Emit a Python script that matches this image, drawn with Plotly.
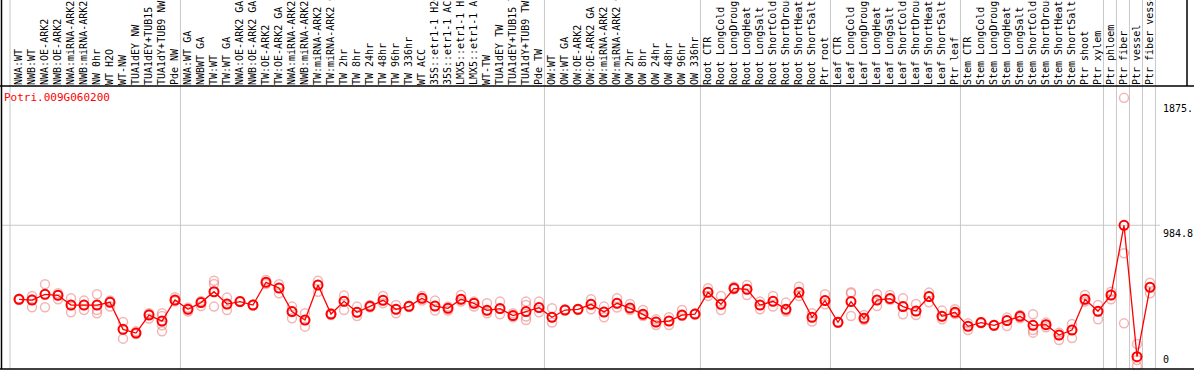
import plotly.graph_objects as go

# ---------------- data ----------------
gene_id = "Potri.009G060200"

sample_labels = [
    "NWA:WT", "NWB:WT", "NWA:OE-ARK2", "NWB:OE-ARK2", "NWA:miRNA-ARK2", "NWB:miRNA-ARK2",
    "NW 0hr", "WT H2O", "WT-NW", "TUA1dEY NW", "TUA1dEY+TUB15 NW", "TUA1dY+TUB9 NW", "Pde NW",
    "NWA:WT GA", "NWBWT GA", "TW:WT", "TW:WT GA", "NWA:OE-ARK2 GA", "NWB:OE-ARK2 GA",
    "TW:OE-ARK2", "TW:OE-ARK2 GA", "NWA:miRNA-ARK2 GA", "NWB:miRNA-ARK2 GA", "TW:miRNA-ARK2",
    "TW:miRNA-ARK2 GA", "TW 2hr", "TW 8hr", "TW 24hr", "TW 48hr", "TW 96hr", "TW 336hr",
    "WT ACC", "35S::etr1-1 H2O", "35S::etr1-1 ACC", "LMX5::etr1-1 H2O", "LMX5::etr1-1 ACC",
    "WT-TW", "TUA1dEY TW", "TUA1dEY+TUB15 TW", "TUA1dY+TUB9 TW", "Pde TW",
    "OW:WT", "OW:WT GA", "OW:OE-ARK2", "OW:OE-ARK2 GA", "OW:miRNA-ARK2", "OW:miRNA-ARK2 GA",
    "OW 2hr", "OW 8hr", "OW 24hr", "OW 48hr", "OW 96hr", "OW 336hr",
    "Root CTR", "Root LongCold", "Root LongDrought", "Root LongHeat", "Root LongSalt",
    "Root ShortCold", "Root ShortDrought", "Root ShortHeat", "Root ShortSalt", "Ptr root",
    "Leaf CTR", "Leaf LongCold", "Leaf LongDrought", "Leaf LongHeat", "Leaf LongSalt",
    "Leaf ShortCold", "Leaf ShortDrought", "Leaf ShortHeat", "Leaf ShortSalt", "Ptr leaf",
    "Stem CTR", "Stem LongCold", "Stem LongDrought", "Stem LongHeat", "Stem LongSalt",
    "Stem ShortCold", "Stem ShortDrought", "Stem ShortHeat", "Stem ShortSalt",
    "Ptr shoot", "Ptr xylem", "Ptr phloem", "Ptr fiber", "Ptr vessel", "Ptr fiber vessel",
]

group_sizes = [13, 28, 12, 10, 10, 11, 1, 1, 1, 1]

mean_values = [
    467, 462, 502, 495, 427, 427, 427, 446, 257, 231, 357, 315, 462,
    397, 444, 520, 434, 451, 427, 586, 546, 381, 322, 567, 364, 453, 376, 418,
    460, 397, 418, 474, 420, 404, 467, 439, 390, 402, 353, 381, 409,
    341, 392, 397, 432, 378, 439, 406, 362, 308, 315, 357, 364,
    516, 432, 544, 537, 427, 453, 397, 516, 341, 458,
    306, 451, 334, 462, 472, 416, 385, 486, 348, 376,
    278, 304, 285, 318, 348, 285, 290, 217, 252, 467, 383,
    497, 984.8, 66, 551,
]

replicate_values = [
    [463, 467, 472], [490, 411, 467], [572, 502, 411], [495, 467, 509], [474, 427, 376],
    [458, 427, 392], [502, 427, 392, 369], [458, 416, 451], [308, 257, 192], [243, 224, 231],
    [369, 332, 364], [369, 350, 285, 243], [481, 453, 462],
    [409, 381, 397], [455, 420, 444], [597, 574, 416], [479, 392, 434], [451, 448, 455],
    [427, 425, 430], [602, 574, 586], [572, 509, 546], [416, 334, 381], [369, 276, 322],
    [597, 520, 567], [369, 357, 364], [493, 392, 453], [416, 350, 376], [427, 411, 418],
    [490, 439, 460], [427, 369, 397], [422, 413, 418], [490, 458, 474], [458, 388, 420],
    [416, 388, 404], [497, 451, 467], [451, 416, 439], [439, 369, 390], [451, 362, 402],
    [369, 341, 353], [451, 427, 346, 322], [451, 376, 409],
    [404, 304, 341], [392, 397, 388], [397, 393, 400], [467, 397, 432], [416, 341, 378],
    [474, 409, 439], [434, 392, 406], [392, 350, 362], [327, 287, 308], [341, 287, 315],
    [392, 350, 357], [364, 360, 368],
    [544, 490, 516], [490, 392, 432], [555, 537, 544], [567, 497, 537], [451, 397, 427],
    [490, 416, 453], [444, 381, 397], [555, 490, 516], [369, 311, 341], [502, 432, 458],
    [306, 303, 309], [516, 350, 509], [357, 322, 334], [504, 420, 462], [497, 462, 472],
    [474, 362, 416], [434, 357, 385], [514, 446, 486], [388, 327, 348], [397, 364, 376],
    [299, 252, 278], [304, 300, 308], [285, 282, 288], [339, 280, 318], [357, 334, 348],
    [362, 252, 234], [304, 271, 290], [234, 183, 217], [294, 197, 252], [497, 451, 467],
    [427, 327, 383],
    [520, 467, 497], [1875.8, 789, 299], [155, 0, 43], [583, 509, 551],
]

y_label_values = [1875.8, 984.8, 0]
y_label_texts = ["1875.", "984.8", "0"]

# ---------------- geometry / style ----------------
W, H = 1194, 370
ML, MR, MT, MB = 1, 34, 86, 1
plot_w = W - ML - MR
plot_h = H - MT - MB

x_idx = list(range(len(sample_labels)))
mono = "DejaVu Sans Mono"
red = "#ff0000"
pink = "rgba(235,120,120,0.55)"
grid = "#c8c8c8"

fig = go.Figure()

# replicate points
rx, ry = [], []
for i, reps in enumerate(replicate_values):
    for v in reps:
        rx.append(i)
        ry.append(v)
fig.add_trace(go.Scatter(
    x=rx, y=ry, mode="markers",
    marker=dict(symbol="circle-open", size=9, color=pink, line=dict(width=1.5, color=pink)),
    hoverinfo="skip", showlegend=False, cliponaxis=False,
))

# mean line + markers
fig.add_trace(go.Scatter(
    x=x_idx, y=mean_values, mode="lines+markers",
    line=dict(color=red, width=1.3),
    marker=dict(symbol="circle-open", size=9, color=red, line=dict(width=2, color=red)),
    showlegend=False, cliponaxis=False,
))

# group separators (vertical gridlines)
bounds = [-0.69]
acc = -1
for g in group_sizes:
    acc += g
    bounds.append(acc + 0.42)
shapes = []
for b in bounds:
    shapes.append(dict(type="line", xref="x", yref="paper", x0=b, x1=b, y0=0, y1=(H) / plot_h,
                       line=dict(color=grid, width=1), layer="below"))

# horizontal midline gridline
shapes.append(dict(type="line", xref="paper", yref="y", x0=0, x1=1, y0=y_label_values[1],
                   y1=y_label_values[1], line=dict(color=grid, width=1), layer="below"))


def px_to_paper_x(px):
    return (px - ML) / plot_w


def py_to_paper_y(py):
    return (H - MB - py) / plot_h


# frame lines
shapes += [
    dict(type="line", xref="paper", yref="paper", x0=px_to_paper_x(0), x1=px_to_paper_x(W),
         y0=1, y1=1, line=dict(color="black", width=1.5)),
    dict(type="line", xref="paper", yref="paper", x0=px_to_paper_x(0), x1=px_to_paper_x(W),
         y0=0, y1=0, line=dict(color="black", width=1.5)),
    dict(type="line", xref="paper", yref="paper", x0=px_to_paper_x(1.5), x1=px_to_paper_x(1.5),
         y0=0, y1=py_to_paper_y(0), line=dict(color="black", width=1.5)),
    dict(type="line", xref="paper", yref="paper", x0=px_to_paper_x(1187), x1=px_to_paper_x(1187),
         y0=1, y1=py_to_paper_y(0), line=dict(color="black", width=1.5)),
]

annotations = [
    dict(text=gene_id, xref="paper", yref="paper", x=px_to_paper_x(2), y=py_to_paper_y(97),
         xanchor="left", yanchor="middle", showarrow=False,
         font=dict(family=mono, size=11, color=red)),
]
shifts = [(-3, "top"), (-1, "top"), (-1, "bottom")]
for v, t, (ys, ya) in zip(y_label_values, y_label_texts, shifts):
    annotations.append(dict(text=t, xref="paper", yref="y", x=1, y=v, xshift=1, yshift=ys,
                            xanchor="left", yanchor=ya, showarrow=False,
                            font=dict(family=mono, size=10, color="black")))

fig.update_layout(
    template="none",
    width=W, height=H,
    margin=dict(l=ML, r=MR, t=MT, b=MB, pad=0),
    paper_bgcolor="white", plot_bgcolor="rgba(0,0,0,0)",
    shapes=shapes, annotations=annotations,
    xaxis=dict(
        range=[-18 / 13.0, (plot_w - 18) / 13.0],
        side="top", tickmode="array", tickvals=x_idx, ticktext=sample_labels,
        tickangle=-90, ticks="", showgrid=False, zeroline=False, showline=False,
        tickfont=dict(family=mono, size=10, color="black"), automargin=False,
    ),
    yaxis=dict(
        range=[-20.3, 1958.7], showticklabels=False, showgrid=False, zeroline=False,
        showline=False, ticks="", automargin=False,
    ),
    showlegend=False,
)

fig.write_html(
    "out.html",
    config={"displayModeBar": False},
    post_script="document.body.style.margin='0px';document.body.style.overflow='hidden';",
)
